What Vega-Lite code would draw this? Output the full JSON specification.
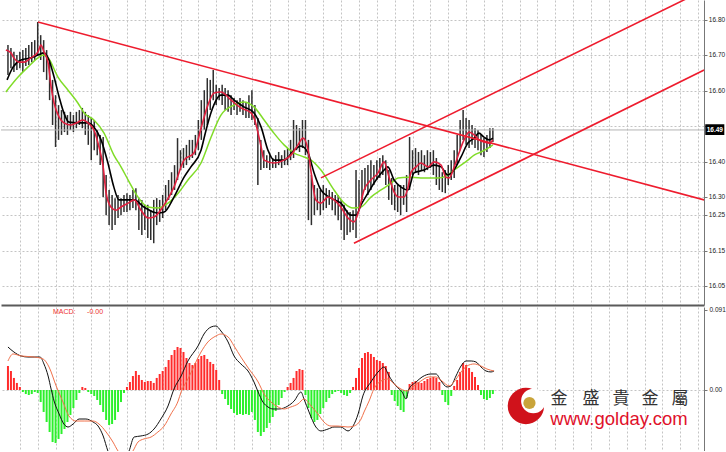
{
"$schema": "https://vega.github.io/schema/vega-lite/v6.json",
"padding": 0,
"spacing": 1,
"background": "white",
"config": {"view": {"stroke": null}, "font": "Liberation Sans", "axis": {"labelOverlap": false}},
"datasets": {
"one": [{}],
"ylab": [{"p":16.05},{"p":16.15},{"p":16.25},{"p":16.3},{"p":16.4},{"p":16.6},{"p":16.7},{"p":16.8}],
"bars": [
{"i":2,"h":16.729,"l":16.645},{"i":3,"h":16.721,"l":16.664},{"i":4,"h":16.710,"l":16.653},{"i":5,"h":16.701,"l":16.659},{"i":6,"h":16.710,"l":16.664},{"i":7,"h":16.715,"l":16.653},{"i":8,"h":16.721,"l":16.670},{"i":9,"h":16.729,"l":16.673},{"i":10,"h":16.738,"l":16.681},{"i":11,"h":16.743,"l":16.687},{"i":12,"h":16.794,"l":16.701},{"i":13,"h":16.757,"l":16.687},{"i":14,"h":16.743,"l":16.653},{"i":15,"h":16.715,"l":16.631},{"i":16,"h":16.687,"l":16.574},{"i":17,"h":16.631,"l":16.504},{"i":18,"h":16.588,"l":16.442},{"i":19,"h":16.560,"l":16.462},{"i":20,"h":16.546,"l":16.476},{"i":21,"h":16.541,"l":16.484},{"i":22,"h":16.532,"l":16.476},{"i":23,"h":16.541,"l":16.490},{"i":24,"h":16.532,"l":16.484},{"i":25,"h":16.541,"l":16.495},{"i":26,"h":16.546,"l":16.504},{"i":27,"h":16.552,"l":16.495},{"i":28,"h":16.541,"l":16.476},{"i":29,"h":16.532,"l":16.448},{"i":30,"h":16.524,"l":16.405},{"i":31,"h":16.518,"l":16.433},{"i":32,"h":16.490,"l":16.419},{"i":33,"h":16.476,"l":16.391},{"i":34,"h":16.470,"l":16.301},{"i":35,"h":16.363,"l":16.250},{"i":36,"h":16.321,"l":16.222},{"i":37,"h":16.307,"l":16.208},{"i":38,"h":16.298,"l":16.222},{"i":39,"h":16.307,"l":16.242},{"i":40,"h":16.298,"l":16.250},{"i":41,"h":16.307,"l":16.259},{"i":42,"h":16.312,"l":16.259},{"i":43,"h":16.307,"l":16.264},{"i":44,"h":16.321,"l":16.270},{"i":45,"h":16.326,"l":16.264},{"i":46,"h":16.298,"l":16.208},{"i":47,"h":16.293,"l":16.194},{"i":48,"h":16.279,"l":16.208},{"i":49,"h":16.279,"l":16.186},{"i":50,"h":16.264,"l":16.180},{"i":51,"h":16.293,"l":16.171},{"i":52,"h":16.298,"l":16.222},{"i":53,"h":16.293,"l":16.231},{"i":54,"h":16.307,"l":16.242},{"i":55,"h":16.335,"l":16.264},{"i":56,"h":16.349,"l":16.293},{"i":57,"h":16.371,"l":16.307},{"i":58,"h":16.391,"l":16.321},{"i":59,"h":16.467,"l":16.349},{"i":60,"h":16.433,"l":16.377},{"i":61,"h":16.439,"l":16.383},{"i":62,"h":16.448,"l":16.391},{"i":63,"h":16.462,"l":16.405},{"i":64,"h":16.462,"l":16.411},{"i":65,"h":16.476,"l":16.419},{"i":66,"h":16.518,"l":16.433},{"i":67,"h":16.574,"l":16.462},{"i":68,"h":16.602,"l":16.490},{"i":69,"h":16.636,"l":16.504},{"i":70,"h":16.631,"l":16.546},{"i":71,"h":16.659,"l":16.574},{"i":72,"h":16.617,"l":16.560},{"i":73,"h":16.608,"l":16.574},{"i":74,"h":16.617,"l":16.560},{"i":75,"h":16.608,"l":16.546},{"i":76,"h":16.602,"l":16.541},{"i":77,"h":16.588,"l":16.532},{"i":78,"h":16.580,"l":16.546},{"i":79,"h":16.574,"l":16.532},{"i":80,"h":16.580,"l":16.541},{"i":81,"h":16.574,"l":16.532},{"i":82,"h":16.569,"l":16.524},{"i":83,"h":16.588,"l":16.524},{"i":84,"h":16.602,"l":16.518},{"i":85,"h":16.560,"l":16.504},{"i":86,"h":16.524,"l":16.335},{"i":87,"h":16.462,"l":16.377},{"i":88,"h":16.433,"l":16.383},{"i":89,"h":16.419,"l":16.383},{"i":90,"h":16.419,"l":16.377},{"i":91,"h":16.411,"l":16.383},{"i":92,"h":16.419,"l":16.383},{"i":93,"h":16.428,"l":16.391},{"i":94,"h":16.419,"l":16.383},{"i":95,"h":16.433,"l":16.391},{"i":96,"h":16.439,"l":16.391},{"i":97,"h":16.462,"l":16.405},{"i":98,"h":16.518,"l":16.411},{"i":99,"h":16.504,"l":16.433},{"i":100,"h":16.495,"l":16.428},{"i":101,"h":16.518,"l":16.439},{"i":102,"h":16.518,"l":16.419},{"i":103,"h":16.462,"l":16.236},{"i":104,"h":16.363,"l":16.222},{"i":105,"h":16.335,"l":16.250},{"i":106,"h":16.326,"l":16.264},{"i":107,"h":16.321,"l":16.250},{"i":108,"h":16.335,"l":16.264},{"i":109,"h":16.326,"l":16.270},{"i":110,"h":16.321,"l":16.279},{"i":111,"h":16.315,"l":16.264},{"i":112,"h":16.307,"l":16.250},{"i":113,"h":16.307,"l":16.236},{"i":114,"h":16.293,"l":16.208},{"i":115,"h":16.279,"l":16.180},{"i":116,"h":16.264,"l":16.194},{"i":117,"h":16.259,"l":16.202},{"i":118,"h":16.264,"l":16.208},{"i":119,"h":16.377,"l":16.186},{"i":120,"h":16.349,"l":16.264},{"i":121,"h":16.377,"l":16.293},{"i":122,"h":16.383,"l":16.321},{"i":123,"h":16.391,"l":16.307},{"i":124,"h":16.405,"l":16.321},{"i":125,"h":16.391,"l":16.335},{"i":126,"h":16.405,"l":16.349},{"i":127,"h":16.411,"l":16.355},{"i":128,"h":16.419,"l":16.363},{"i":129,"h":16.405,"l":16.335},{"i":130,"h":16.377,"l":16.293},{"i":131,"h":16.355,"l":16.279},{"i":132,"h":16.335,"l":16.264},{"i":133,"h":16.335,"l":16.259},{"i":134,"h":16.335,"l":16.250},{"i":135,"h":16.335,"l":16.279},{"i":136,"h":16.363,"l":16.259},{"i":137,"h":16.470,"l":16.321},{"i":138,"h":16.433,"l":16.363},{"i":139,"h":16.439,"l":16.371},{"i":140,"h":16.428,"l":16.363},{"i":141,"h":16.433,"l":16.377},{"i":142,"h":16.419,"l":16.371},{"i":143,"h":16.433,"l":16.377},{"i":144,"h":16.428,"l":16.383},{"i":145,"h":16.433,"l":16.363},{"i":146,"h":16.411,"l":16.335},{"i":147,"h":16.391,"l":16.321},{"i":148,"h":16.371,"l":16.315},{"i":149,"h":16.377,"l":16.312},{"i":150,"h":16.391,"l":16.335},{"i":151,"h":16.405,"l":16.349},{"i":152,"h":16.433,"l":16.355},{"i":153,"h":16.476,"l":16.391},{"i":154,"h":16.518,"l":16.433},{"i":155,"h":16.546,"l":16.462},{"i":156,"h":16.524,"l":16.448},{"i":157,"h":16.518,"l":16.439},{"i":158,"h":16.504,"l":16.448},{"i":159,"h":16.495,"l":16.439},{"i":160,"h":16.490,"l":16.433},{"i":161,"h":16.476,"l":16.419},{"i":162,"h":16.467,"l":16.414},{"i":163,"h":16.476,"l":16.428},{"i":164,"h":16.495,"l":16.439},{"i":165,"h":16.495,"l":16.456}
],
"maR": [
{"i":1.3,"v":16.715},{"i":3.0,"v":16.707},{"i":4.0,"v":16.693},{"i":5.7,"v":16.681},{"i":7.4,"v":16.681},{"i":9.7,"v":16.693},{"i":12.1,"v":16.710},{"i":13.1,"v":16.729},{"i":14.1,"v":16.710},{"i":15.5,"v":16.679},{"i":16.5,"v":16.611},{"i":17.5,"v":16.566},{"i":19.2,"v":16.526},{"i":20.8,"v":16.510},{"i":23.2,"v":16.504},{"i":25.5,"v":16.512},{"i":27.2,"v":16.518},{"i":28.9,"v":16.510},{"i":30.9,"v":16.490},{"i":32.6,"v":16.442},{"i":34.0,"v":16.386},{"i":35.0,"v":16.312},{"i":36.6,"v":16.273},{"i":38.3,"v":16.264},{"i":40.0,"v":16.273},{"i":42.4,"v":16.284},{"i":44.4,"v":16.293},{"i":46.7,"v":16.264},{"i":49.1,"v":16.242},{"i":51.1,"v":16.245},{"i":54.5,"v":16.279},{"i":57.8,"v":16.329},{"i":61.2,"v":16.405},{"i":64.5,"v":16.425},{"i":66.9,"v":16.495},{"i":69.2,"v":16.560},{"i":71.3,"v":16.594},{"i":73.6,"v":16.597},{"i":77.0,"v":16.574},{"i":80.3,"v":16.552},{"i":83.7,"v":16.538},{"i":84.7,"v":16.524},{"i":87.1,"v":16.442},{"i":88.1,"v":16.405},{"i":91.4,"v":16.397},{"i":94.8,"v":16.405},{"i":97.1,"v":16.419},{"i":99.5,"v":16.448},{"i":101.2,"v":16.467},{"i":102.9,"v":16.433},{"i":103.9,"v":16.371},{"i":105.5,"v":16.293},{"i":107.2,"v":16.284},{"i":109.6,"v":16.301},{"i":111.6,"v":16.293},{"i":113.9,"v":16.273},{"i":116.3,"v":16.242},{"i":118.3,"v":16.231},{"i":120.0,"v":16.264},{"i":121.7,"v":16.321},{"i":124.0,"v":16.349},{"i":126.4,"v":16.369},{"i":128.4,"v":16.400},{"i":130.1,"v":16.357},{"i":131.8,"v":16.315},{"i":133.4,"v":16.301},{"i":135.1,"v":16.301},{"i":136.5,"v":16.329},{"i":137.5,"v":16.371},{"i":139.2,"v":16.386},{"i":140.8,"v":16.397},{"i":143.2,"v":16.386},{"i":145.2,"v":16.400},{"i":147.6,"v":16.391},{"i":149.2,"v":16.357},{"i":150.3,"v":16.355},{"i":151.9,"v":16.383},{"i":153.6,"v":16.425},{"i":155.3,"v":16.462},{"i":157.0,"v":16.484},{"i":158.7,"v":16.476},{"i":160.3,"v":16.462},{"i":162.0,"v":16.456},{"i":163.7,"v":16.453},{"i":165.0,"v":16.462}
],
"maK": [
{"i":1.7,"v":16.631},{"i":3.7,"v":16.667},{"i":6.4,"v":16.687},{"i":9.7,"v":16.693},{"i":12.1,"v":16.701},{"i":14.1,"v":16.707},{"i":15.8,"v":16.687},{"i":17.5,"v":16.639},{"i":19.2,"v":16.583},{"i":20.8,"v":16.538},{"i":22.5,"v":16.512},{"i":25.5,"v":16.510},{"i":28.9,"v":16.510},{"i":30.9,"v":16.498},{"i":33.3,"v":16.462},{"i":35.6,"v":16.397},{"i":37.6,"v":16.329},{"i":39.3,"v":16.293},{"i":41.7,"v":16.293},{"i":44.4,"v":16.293},{"i":47.7,"v":16.273},{"i":52.4,"v":16.256},{"i":54.5,"v":16.259},{"i":57.8,"v":16.301},{"i":61.2,"v":16.357},{"i":63.5,"v":16.386},{"i":66.9,"v":16.433},{"i":68.6,"v":16.490},{"i":70.3,"v":16.540},{"i":73.6,"v":16.588},{"i":76.0,"v":16.588},{"i":78.0,"v":16.574},{"i":81.3,"v":16.555},{"i":84.7,"v":16.538},{"i":87.1,"v":16.498},{"i":89.4,"v":16.433},{"i":91.4,"v":16.405},{"i":94.8,"v":16.405},{"i":98.2,"v":16.433},{"i":100.5,"v":16.445},{"i":102.9,"v":16.425},{"i":104.9,"v":16.369},{"i":107.2,"v":16.321},{"i":110.6,"v":16.298},{"i":113.9,"v":16.284},{"i":117.3,"v":16.250},{"i":119.0,"v":16.250},{"i":120.7,"v":16.279},{"i":123.0,"v":16.312},{"i":125.0,"v":16.340},{"i":128.4,"v":16.377},{"i":129.7,"v":16.386},{"i":131.8,"v":16.349},{"i":134.1,"v":16.329},{"i":136.5,"v":16.321},{"i":138.5,"v":16.369},{"i":141.8,"v":16.377},{"i":145.2,"v":16.391},{"i":147.6,"v":16.386},{"i":149.9,"v":16.363},{"i":151.9,"v":16.377},{"i":154.3,"v":16.414},{"i":156.6,"v":16.453},{"i":158.7,"v":16.467},{"i":160.3,"v":16.481},{"i":162.0,"v":16.470},{"i":163.7,"v":16.462},{"i":165.0,"v":16.467}
],
"maG": [
{"i":1.3,"v":16.597},{"i":5.4,"v":16.639},{"i":8.7,"v":16.667},{"i":12.1,"v":16.693},{"i":13.8,"v":16.701},{"i":15.5,"v":16.693},{"i":18.8,"v":16.639},{"i":22.2,"v":16.602},{"i":25.5,"v":16.566},{"i":27.6,"v":16.538},{"i":30.9,"v":16.518},{"i":34.3,"v":16.481},{"i":37.6,"v":16.419},{"i":40.0,"v":16.386},{"i":42.4,"v":16.349},{"i":45.7,"v":16.301},{"i":49.1,"v":16.273},{"i":52.4,"v":16.270},{"i":55.8,"v":16.284},{"i":59.2,"v":16.312},{"i":62.5,"v":16.349},{"i":66.9,"v":16.397},{"i":70.3,"v":16.470},{"i":73.6,"v":16.532},{"i":78.0,"v":16.560},{"i":81.3,"v":16.569},{"i":84.7,"v":16.555},{"i":88.1,"v":16.518},{"i":91.4,"v":16.481},{"i":94.8,"v":16.448},{"i":98.2,"v":16.425},{"i":101.5,"v":16.414},{"i":103.9,"v":16.405},{"i":107.2,"v":16.377},{"i":111.6,"v":16.321},{"i":115.0,"v":16.284},{"i":118.0,"v":16.270},{"i":120.7,"v":16.273},{"i":124.0,"v":16.301},{"i":127.4,"v":16.321},{"i":130.8,"v":16.340},{"i":133.1,"v":16.355},{"i":136.5,"v":16.357},{"i":140.8,"v":16.355},{"i":146.6,"v":16.355},{"i":149.9,"v":16.363},{"i":151.9,"v":16.377},{"i":154.3,"v":16.391},{"i":156.6,"v":16.405},{"i":158.7,"v":16.419},{"i":161.0,"v":16.428},{"i":163.4,"v":16.439},{"i":165.0,"v":16.448}
],
"trend": [
{"i":12.1,"v":16.794,"k":"a"},{"i":236,"v":16.293,"k":"a"},
{"i":107.2,"v":16.355,"k":"b"},{"i":236,"v":16.884,"k":"b"},
{"i":118.3,"v":16.171,"k":"c"},{"i":236,"v":16.659,"k":"c"}
],
"hist": [
{"i":2,"v":0.0273},{"i":3,"v":0.0216},{"i":4,"v":0.0137},{"i":5,"v":0.0080},{"i":6,"v":0.0034},{"i":7,"v":-0.0023},{"i":8,"v":-0.0046},{"i":9,"v":-0.0057},{"i":10,"v":-0.0046},{"i":11,"v":-0.0023},{"i":12,"v":-0.0034},{"i":13,"v":-0.0137},{"i":14,"v":-0.0250},{"i":15,"v":-0.0364},{"i":16,"v":-0.0478},{"i":17,"v":-0.0592},{"i":18,"v":-0.0603},{"i":19,"v":-0.0557},{"i":20,"v":-0.0501},{"i":21,"v":-0.0444},{"i":22,"v":-0.0364},{"i":23,"v":-0.0284},{"i":24,"v":-0.0205},{"i":25,"v":-0.0114},{"i":26,"v":-0.0034},{"i":27,"v":0.0034},{"i":28,"v":0.0023},{"i":29,"v":-0.0023},{"i":30,"v":-0.0046},{"i":31,"v":-0.0068},{"i":32,"v":-0.0114},{"i":33,"v":-0.0171},{"i":34,"v":-0.0250},{"i":35,"v":-0.0341},{"i":36,"v":-0.0398},{"i":37,"v":-0.0387},{"i":38,"v":-0.0341},{"i":39,"v":-0.0250},{"i":40,"v":-0.0137},{"i":41,"v":-0.0034},{"i":42,"v":0.0034},{"i":43,"v":0.0091},{"i":44,"v":0.0159},{"i":45,"v":0.0216},{"i":46,"v":0.0171},{"i":47,"v":0.0114},{"i":48,"v":0.0091},{"i":49,"v":0.0102},{"i":50,"v":0.0102},{"i":51,"v":0.0080},{"i":52,"v":0.0137},{"i":53,"v":0.0182},{"i":54,"v":0.0216},{"i":55,"v":0.0262},{"i":56,"v":0.0341},{"i":57,"v":0.0398},{"i":58,"v":0.0455},{"i":59,"v":0.0489},{"i":60,"v":0.0478},{"i":61,"v":0.0432},{"i":62,"v":0.0364},{"i":63,"v":0.0307},{"i":64,"v":0.0284},{"i":65,"v":0.0307},{"i":66,"v":0.0353},{"i":67,"v":0.0387},{"i":68,"v":0.0398},{"i":69,"v":0.0353},{"i":70,"v":0.0319},{"i":71,"v":0.0296},{"i":72,"v":0.0228},{"i":73,"v":0.0114},{"i":74,"v":-0.0046},{"i":75,"v":-0.0102},{"i":76,"v":-0.0171},{"i":77,"v":-0.0216},{"i":78,"v":-0.0262},{"i":79,"v":-0.0284},{"i":80,"v":-0.0273},{"i":81,"v":-0.0284},{"i":82,"v":-0.0273},{"i":83,"v":-0.0284},{"i":84,"v":-0.0250},{"i":85,"v":-0.0341},{"i":86,"v":-0.0478},{"i":87,"v":-0.0523},{"i":88,"v":-0.0478},{"i":89,"v":-0.0432},{"i":90,"v":-0.0375},{"i":91,"v":-0.0307},{"i":92,"v":-0.0239},{"i":93,"v":-0.0171},{"i":94,"v":-0.0091},{"i":95,"v":-0.0023},{"i":96,"v":0.0034},{"i":97,"v":0.0080},{"i":98,"v":0.0137},{"i":99,"v":0.0216},{"i":100,"v":0.0239},{"i":101,"v":0.0228},{"i":102,"v":-0.0057},{"i":103,"v":-0.0205},{"i":104,"v":-0.0319},{"i":105,"v":-0.0364},{"i":106,"v":-0.0341},{"i":107,"v":-0.0273},{"i":108,"v":-0.0205},{"i":109,"v":-0.0137},{"i":110,"v":-0.0091},{"i":111,"v":-0.0046},{"i":112,"v":-0.0023},{"i":113,"v":-0.0011},{"i":114,"v":-0.0034},{"i":115,"v":-0.0057},{"i":116,"v":-0.0068},{"i":117,"v":-0.0034},{"i":118,"v":0.0034},{"i":119,"v":0.0137},{"i":120,"v":0.0250},{"i":121,"v":0.0364},{"i":122,"v":0.0421},{"i":123,"v":0.0432},{"i":124,"v":0.0410},{"i":125,"v":0.0375},{"i":126,"v":0.0341},{"i":127,"v":0.0330},{"i":128,"v":0.0307},{"i":129,"v":0.0273},{"i":130,"v":0.0205},{"i":131,"v":-0.0057},{"i":132,"v":-0.0125},{"i":133,"v":-0.0182},{"i":134,"v":-0.0228},{"i":135,"v":-0.0250},{"i":136,"v":-0.0091},{"i":137,"v":0.0068},{"i":138,"v":0.0091},{"i":139,"v":0.0102},{"i":140,"v":0.0091},{"i":141,"v":0.0080},{"i":142,"v":0.0102},{"i":143,"v":0.0125},{"i":144,"v":0.0137},{"i":145,"v":0.0148},{"i":146,"v":0.0137},{"i":147,"v":0.0091},{"i":148,"v":-0.0057},{"i":149,"v":-0.0137},{"i":150,"v":-0.0171},{"i":151,"v":-0.0068},{"i":152,"v":0.0046},{"i":153,"v":0.0114},{"i":154,"v":0.0205},{"i":155,"v":0.0307},{"i":156,"v":0.0284},{"i":157,"v":0.0250},{"i":158,"v":0.0205},{"i":159,"v":0.0148},{"i":160,"v":0.0057},{"i":161,"v":-0.0057},{"i":162,"v":-0.0102},{"i":163,"v":-0.0114},{"i":164,"v":-0.0091},{"i":165,"v":-0.0046}
],
"macd": [
{"i":2.0,"v":0.0489},{"i":4.0,"v":0.0432},{"i":6.4,"v":0.0387},{"i":8.7,"v":0.0375},{"i":10.8,"v":0.0375},{"i":12.8,"v":0.0375},{"i":14.1,"v":0.0296},{"i":15.5,"v":0.0159},{"i":16.5,"v":0.0011},{"i":17.5,"v":-0.0125},{"i":19.2,"v":-0.0273},{"i":20.8,"v":-0.0387},{"i":22.2,"v":-0.0421},{"i":23.9,"v":-0.0387},{"i":25.9,"v":-0.0330},{"i":28.2,"v":-0.0330},{"i":30.6,"v":-0.0364},{"i":32.3,"v":-0.0410},{"i":34.0,"v":-0.0523},{"i":35.6,"v":-0.0694},{"i":37.3,"v":-0.0808},{"i":39.3,"v":-0.0842},{"i":41.0,"v":-0.0808},{"i":42.7,"v":-0.0694},{"i":44.4,"v":-0.0535},{"i":46.7,"v":-0.0523},{"i":49.1,"v":-0.0501},{"i":51.1,"v":-0.0444},{"i":53.4,"v":-0.0330},{"i":55.8,"v":-0.0182},{"i":57.8,"v":0.0011},{"i":60.2,"v":0.0159},{"i":62.5,"v":0.0330},{"i":65.9,"v":0.0501},{"i":67.9,"v":0.0637},{"i":70.3,"v":0.0717},{"i":71.9,"v":0.0728},{"i":73.6,"v":0.0671},{"i":76.0,"v":0.0546},{"i":78.0,"v":0.0387},{"i":80.3,"v":0.0296},{"i":82.7,"v":0.0216},{"i":84.7,"v":0.0091},{"i":86.1,"v":-0.0023},{"i":87.7,"v":-0.0137},{"i":89.4,"v":-0.0193},{"i":91.1,"v":-0.0216},{"i":93.1,"v":-0.0216},{"i":96.1,"v":-0.0182},{"i":98.2,"v":-0.0125},{"i":100.5,"v":-0.0023},{"i":101.5,"v":-0.0102},{"i":103.2,"v":-0.0250},{"i":105.5,"v":-0.0421},{"i":107.2,"v":-0.0466},{"i":109.6,"v":-0.0444},{"i":111.6,"v":-0.0421},{"i":113.9,"v":-0.0421},{"i":116.3,"v":-0.0466},{"i":118.0,"v":-0.0410},{"i":119.7,"v":-0.0273},{"i":121.3,"v":-0.0068},{"i":124.0,"v":0.0091},{"i":126.7,"v":0.0216},{"i":128.4,"v":0.0262},{"i":130.1,"v":0.0159},{"i":132.4,"v":0.0046},{"i":134.5,"v":-0.0023},{"i":135.8,"v":-0.0102},{"i":136.8,"v":0.0011},{"i":139.2,"v":0.0091},{"i":141.2,"v":0.0148},{"i":144.2,"v":0.0182},{"i":145.9,"v":0.0182},{"i":147.6,"v":0.0102},{"i":149.6,"v":0.0034},{"i":150.9,"v":0.0046},{"i":152.6,"v":0.0159},{"i":154.3,"v":0.0273},{"i":156.0,"v":0.0330},{"i":157.7,"v":0.0330},{"i":159.3,"v":0.0319},{"i":161.0,"v":0.0262},{"i":162.7,"v":0.0216},{"i":164.4,"v":0.0205},{"i":165.4,"v":0.0216}
],
"sig": [
{"i":2.0,"v":0.0330},{"i":3.7,"v":0.0410},{"i":6.4,"v":0.0387},{"i":10.8,"v":0.0375},{"i":13.8,"v":0.0353},{"i":15.8,"v":0.0262},{"i":18.2,"v":0.0046},{"i":20.5,"v":-0.0137},{"i":22.5,"v":-0.0296},{"i":24.9,"v":-0.0353},{"i":27.6,"v":-0.0353},{"i":30.6,"v":-0.0353},{"i":32.6,"v":-0.0387},{"i":35.0,"v":-0.0478},{"i":37.3,"v":-0.0592},{"i":39.0,"v":-0.0694},{"i":41.3,"v":-0.0762},{"i":44.0,"v":-0.0694},{"i":45.7,"v":-0.0592},{"i":47.7,"v":-0.0557},{"i":50.1,"v":-0.0535},{"i":52.4,"v":-0.0478},{"i":54.5,"v":-0.0410},{"i":56.8,"v":-0.0273},{"i":59.2,"v":-0.0125},{"i":60.2,"v":-0.0023},{"i":62.5,"v":0.0125},{"i":66.9,"v":0.0432},{"i":69.2,"v":0.0546},{"i":71.9,"v":0.0614},{"i":73.6,"v":0.0637},{"i":76.0,"v":0.0603},{"i":78.0,"v":0.0501},{"i":80.3,"v":0.0375},{"i":83.0,"v":0.0239},{"i":86.1,"v":0.0091},{"i":88.1,"v":-0.0046},{"i":90.4,"v":-0.0137},{"i":92.8,"v":-0.0193},{"i":94.8,"v":-0.0216},{"i":97.1,"v":-0.0193},{"i":99.5,"v":-0.0159},{"i":101.5,"v":-0.0102},{"i":103.9,"v":-0.0182},{"i":106.2,"v":-0.0273},{"i":108.2,"v":-0.0364},{"i":110.6,"v":-0.0410},{"i":112.9,"v":-0.0410},{"i":116.3,"v":-0.0421},{"i":118.3,"v":-0.0410},{"i":120.7,"v":-0.0330},{"i":121.7,"v":-0.0250},{"i":123.4,"v":-0.0125},{"i":125.0,"v":0.0011},{"i":127.4,"v":0.0102},{"i":129.7,"v":0.0125},{"i":131.8,"v":0.0068},{"i":134.1,"v":0.0011},{"i":136.1,"v":-0.0011},{"i":138.5,"v":0.0046},{"i":140.8,"v":0.0102},{"i":143.5,"v":0.0148},{"i":145.9,"v":0.0148},{"i":147.9,"v":0.0102},{"i":150.3,"v":0.0046},{"i":151.9,"v":0.0091},{"i":154.3,"v":0.0205},{"i":156.3,"v":0.0273},{"i":158.7,"v":0.0296},{"i":161.0,"v":0.0273},{"i":163.0,"v":0.0239},{"i":165.4,"v":0.0216}
],
"chars": [
{"c":"金","i":187.2},{"c":"盛","i":198.0},{"c":"貴","i":208.1},{"c":"金","i":217.8},{"c":"屬","i":227.9}
]
},
"vconcat": [
{
"width": 703, "height": 305,
"layer": [
{"data": {"name": "bars"},
 "mark": {"type": "rule", "color": "#2e2e2e", "strokeWidth": 1.5},
 "encoding": {
  "x": {"field": "i", "type": "quantitative", "title": null,
        "scale": {"domain": [-0.34, 235.97], "nice": false, "zero": false},
        "axis": {"orient": "bottom", "values": [6,12,18,24,30,36,42,48,54,60,66,72,78,84,90,96,102,108,114,120,126,132,138,144,150,156,162,168,174,180,186,192,198,204,210,216,222,228,234],
                 "tickCount": 200,
                 "labels": false, "ticks": false, "domain": true, "domainColor": "#5a5a5a", "domainWidth": 2,
                 "grid": true, "gridColor": "#c4c4c4", "gridDash": [2, 2], "title": null}},
  "y": {"field": "l", "type": "quantitative", "title": null,
        "scale": {"domain": [15.997, 16.856], "nice": false, "zero": false},
        "axis": {"orient": "right", "values": [16.05,16.15,16.25,16.3,16.4,16.5,16.6,16.7,16.8],
                 "tickCount": 50, "labels": false,
                 "tickSize": 3, "tickColor": "#777",
                 "domainColor": "#777", "grid": true, "gridColor": "#c4c4c4", "gridDash": [2, 2], "title": null}},
  "y2": {"field": "h"}
 }},
{"data": {"name": "one"},
 "mark": {"type": "rule", "color": "#b4b4b4", "strokeWidth": 1},
 "encoding": {"y": {"datum": 16.49}}},
{"data": {"name": "maG"},
 "mark": {"type": "line", "color": "#80dc28", "strokeWidth": 1.5, "interpolate": "monotone"},
 "encoding": {"x": {"field": "i", "type": "quantitative", "title": null}, "y": {"field": "v", "type": "quantitative", "title": null}}},
{"data": {"name": "maK"},
 "mark": {"type": "line", "color": "#000000", "strokeWidth": 1.6, "interpolate": "monotone"},
 "encoding": {"x": {"field": "i", "type": "quantitative", "title": null}, "y": {"field": "v", "type": "quantitative", "title": null}}},
{"data": {"name": "maR"},
 "mark": {"type": "line", "color": "#e0203f", "strokeWidth": 1.6, "interpolate": "monotone"},
 "encoding": {"x": {"field": "i", "type": "quantitative", "title": null}, "y": {"field": "v", "type": "quantitative", "title": null}}},
{"data": {"name": "trend"},
 "mark": {"type": "line", "color": "#ee1c2e", "strokeWidth": 1.6, "clip": true},
 "encoding": {"x": {"field": "i", "type": "quantitative", "title": null}, "y": {"field": "v", "type": "quantitative", "title": null}, "detail": {"field": "k"}}},
{"data": {"name": "ylab"},
 "mark": {"type": "text", "color": "#222222", "fontSize": 6.5, "align": "left", "baseline": "middle"},
 "encoding": {"x": {"datum": 237.6}, "y": {"field": "p", "type": "quantitative", "title": null}, "text": {"field": "p", "type": "quantitative", "format": ".2f"}}},
{"data": {"name": "one"},
 "mark": {"type": "rect", "color": "#000000"},
 "encoding": {"x": {"datum": 236.4}, "x2": {"datum": 242.8}, "y": {"datum": 16.506}, "y2": {"datum": 16.476}}},
{"data": {"name": "one"},
 "mark": {"type": "text", "color": "#ffffff", "fontSize": 6.5, "align": "center", "baseline": "middle", "fontWeight": "bold"},
 "encoding": {"x": {"datum": 239.6}, "y": {"datum": 16.491}, "text": {"value": "16.49"}}}
]
},
{
"width": 703, "height": 144,
"layer": [
{"data": {"name": "hist"},
 "mark": {"type": "rule", "strokeWidth": 2},
 "encoding": {
  "x": {"field": "i", "type": "quantitative", "title": null,
        "scale": {"domain": [-0.34, 235.97], "nice": false, "zero": false},
        "axis": {"values": [6,12,18,24,30,36,42,48,54,60,66,72,78,84,90,96,102,108,114,120,126,132,138,144,150,156,162,168,174,180,186,192,198,204,210,216,222,228,234],
                 "tickCount": 200,
                 "labels": false, "ticks": false, "domain": false,
                 "grid": true, "gridColor": "#c4c4c4", "gridDash": [2, 2], "title": null}},
  "y": {"field": "v", "type": "quantitative", "title": null,
        "scale": {"domain": [-0.0694, 0.0944], "nice": false, "zero": false},
        "axis": {"orient": "right", "values": [0, 0.091],
                 "tickCount": 20,
                 "labelExpr": "datum.value == 0 ? '0.00' : '0.091'",
                 "labelOverlap": false,
                 "labelFontSize": 6.5, "labelColor": "#222", "labelPadding": 2, "tickSize": 3, "tickColor": "#777",
                 "domainColor": "#777", "grid": true, "gridColor": "#c4c4c4", "gridDash": [2, 2],
                 "gridOpacity": {"condition": {"test": "datum.value == 0", "value": 1}, "value": 0}, "title": null}},
  "y2": {"datum": 0},
  "color": {"condition": {"test": "datum.v > 0", "value": "#ff2b2b"}, "value": "#2cf02c"}
 }},
{"data": {"name": "macd"},
 "mark": {"type": "line", "color": "#111111", "strokeWidth": 1, "clip": true, "interpolate": "monotone"},
 "encoding": {"x": {"field": "i", "type": "quantitative", "title": null}, "y": {"field": "v", "type": "quantitative", "title": null}}},
{"data": {"name": "sig"},
 "mark": {"type": "line", "color": "#f0704a", "strokeWidth": 1, "clip": true, "interpolate": "monotone"},
 "encoding": {"x": {"field": "i", "type": "quantitative", "title": null}, "y": {"field": "v", "type": "quantitative", "title": null}}},
{"data": {"name": "one"},
 "mark": {"type": "text", "color": "#ee3030", "fontSize": 7, "align": "left", "baseline": "middle"},
 "encoding": {"x": {"datum": 17.1}, "y": {"datum": 0.0887}, "text": {"value": "MACD:"}}},
{"data": {"name": "one"},
 "mark": {"type": "text", "color": "#ee3030", "fontSize": 7, "align": "left", "baseline": "middle"},
 "encoding": {"x": {"datum": 28.6}, "y": {"datum": 0.0887}, "text": {"value": "-0.00"}}},
{"data": {"name": "one"},
 "mark": {"type": "point", "filled": true, "opacity": 1, "size": 1320, "color": "#d0121b"},
 "encoding": {"x": {"datum": 176.1}, "y": {"datum": -0.0182}}},
{"data": {"name": "one"},
 "mark": {"type": "point", "filled": true, "opacity": 1, "size": 600, "color": "#ffffff"},
 "encoding": {"x": {"datum": 178.6}, "y": {"datum": -0.0125}}},
{"data": {"name": "one"},
 "mark": {"type": "point", "filled": true, "opacity": 1, "size": 150, "color": "#c9a43a"},
 "encoding": {"x": {"datum": 177.3}, "y": {"datum": -0.0148}}},
{"data": {"name": "chars"},
 "mark": {"type": "text", "color": "#333333", "fontSize": 17, "align": "center", "baseline": "middle", "font": "Noto Sans CJK TC"},
 "encoding": {"x": {"field": "i", "type": "quantitative"}, "y": {"datum": -0.0102}, "text": {"field": "c"}}},
{"data": {"name": "one"},
 "mark": {"type": "text", "color": "#e0102a", "fontSize": 18.5, "align": "left", "baseline": "middle"},
 "encoding": {"x": {"datum": 184.3}, "y": {"datum": -0.0325}, "text": {"value": "www.golday.com"}}}
]
}
]
}
